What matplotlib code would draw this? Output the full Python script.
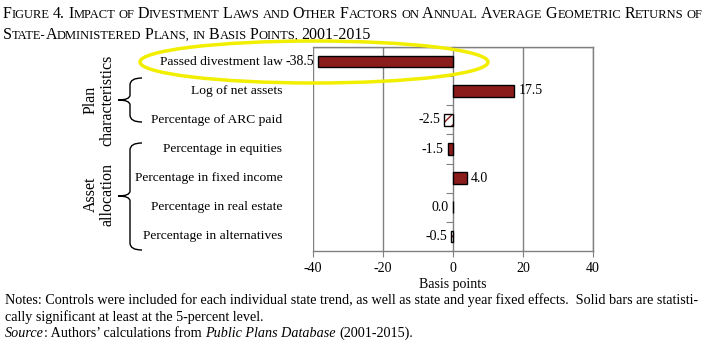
import matplotlib

matplotlib.use('Agg')

import matplotlib.pyplot as plt
from matplotlib.patches import Ellipse, PathPatch
from matplotlib.path import Path
import matplotlib.transforms as mtransforms

# data
categories = ['Passed divestment law', 'Log of net assets', 'Percentage of ARC paid',
              'Percentage in equities', 'Percentage in fixed income',
              'Percentage in real estate', 'Percentage in alternatives']
values = [-38.5, 17.5, -2.5, -1.5, 4.0, 0.0, -0.5]
significant = [True, True, False, True, True, True, False]
xticks = [-40, -20, 0, 20, 40]

W, H = 710, 343
SERIF = 'Liberation Serif'
BAR_RED = '#8b1c1c'

plt.rcParams['font.family'] = SERIF

fig = plt.figure(figsize=(W / 100, H / 100), dpi=100)
renderer = fig.canvas.get_renderer()


def fx(px):
    return px / W


def fy(py):
    return 1 - py / H


def put(x, y, text, size, style='normal'):
    """one text piece at pixel x/y (baseline), returns its right end"""
    t = fig.text(fx(x), fy(y), text, fontsize=size, style=style, va='baseline', ha='left')
    return x + t.get_window_extent(renderer).width


def draw_runs(x, y, runs, space=0.25):
    """draw word tokens one after another, (text, size, style) runs, x/y in pixels"""
    for text, size, style in runs:
        words = text.split(' ')
        for i, word in enumerate(words):
            if i > 0:
                x += space * size * 100 / 72
            if word == '':
                continue
            x = put(x, y, word, size, style)
    return x


def small_caps(x, y, text, big, small):
    runs = []
    for word in text.split(' '):
        if runs:
            runs.append((' ', big, 'normal'))
        cur = ''
        cur_low = None
        for ch in word:
            # punctuation keeps the size of the run it sits in
            low = ch.islower() if (ch.isalpha() or cur_low is None) else cur_low
            if cur_low is not None and low != cur_low:
                runs.append((cur, small if cur_low else big, 'normal'))
                cur = ''
            cur += ch.upper()
            cur_low = low
        runs.append((cur, small if cur_low else big, 'normal'))
    return draw_runs(x, y, runs, space=0.2)


# title in small caps
small_caps(3, 18, 'Figure 4. Impact of Divestment Laws and Other Factors on Annual Average Geometric Returns of',
           11.5, 9.0)
small_caps(3, 39, 'State-Administered Plans, in Basis Points, 2001-2015', 11.5, 9.0)

# main axes
ax = fig.add_axes([fx(313), fy(251), fx(593) - fx(313), fy(47) - fy(251)])
pos = list(range(len(categories)))

for p, v, sig in zip(pos, values, significant):
    if sig:
        ax.barh(p, v, height=0.4, color=BAR_RED, edgecolor='black', lw=1, zorder=3)
    else:
        ax.barh(p, v, height=0.4, color='white', edgecolor=BAR_RED, hatch='///', lw=0, zorder=3)
        ax.barh(p, v, height=0.4, color='none', edgecolor='black', lw=1, zorder=4)

# value labels
for p, v in zip(pos, values):
    if v > 0:
        ax.annotate('%.1f' % v, xy=(v, p), xytext=(3, 0), textcoords='offset points',
                    ha='left', va='center', fontsize=10)
    else:
        ax.annotate('%.1f' % v, xy=(v, p), xytext=(-3, 0), textcoords='offset points',
                    ha='right', va='center', fontsize=10)

# category labels
trans = mtransforms.blended_transform_factory(ax.transAxes, ax.transData)
for p, c in zip(pos, categories):
    ax.annotate(c, xy=(0, p), xycoords=trans, xytext=(-22, 0), textcoords='offset points',
                ha='right', va='center', fontsize=9.7)

ax.set_xlim(-40, 40)
ax.set_ylim(len(categories) - 0.5, -0.5)
ax.set_xticks(xticks)
ax.set_xticklabels([str(t) for t in xticks], fontsize=10)
ax.set_xlabel('Basis points', fontsize=10, labelpad=2)
ax.tick_params(axis='x', direction='out', length=4, color='#808080', pad=4)

# category axis at zero with ticks between categories
ax.spines['left'].set_position(('data', 0))
ax.set_yticks([p + 0.5 for p in pos[:-1]])
ax.set_yticklabels([])
ax.tick_params(axis='y', direction='out', length=5, color='#808080')
for s in ax.spines.values():
    s.set_color('#808080')
    s.set_linewidth(1)
for t in [-40, -20, 20, 40]:
    ax.axvline(t, color='#808080', lw=1, zorder=1)
ax.axhline(-0.5, color='#808080', lw=1, zorder=1)


# group brackets
def brace(y0, y1, ym, x=130, xr=142, xl=118):
    verts = [(xr, y0), (x, y0), (x, y0 + 7), (x, ym - 5), (x, ym), (xl, ym),
             (x, ym), (x, ym + 5), (x, y1 - 7), (x, y1), (xr, y1)]
    codes = [Path.MOVETO, Path.CURVE3, Path.CURVE3, Path.LINETO, Path.CURVE3, Path.CURVE3,
             Path.CURVE3, Path.CURVE3, Path.LINETO, Path.CURVE3, Path.CURVE3]
    verts = [(fx(a), fy(b)) for a, b in verts]
    fig.add_artist(PathPatch(Path(verts, codes), transform=fig.transFigure, fill=False,
                             lw=1, edgecolor='black'))


brace(78, 122, 100)
brace(143, 250, 196)
fig.text(fx(99), fy(100), 'Plan\ncharacteristics', rotation=90, ha='center', va='center',
         multialignment='center', fontsize=11.5, linespacing=1.0)
fig.text(fx(99), fy(194), 'Asset\nallocation', rotation=90, ha='center', va='center',
         multialignment='center', fontsize=11.5, linespacing=1.0)

# highlight ellipse
fig.add_artist(Ellipse((fx(314), fy(62)), fx(348), 42 / H, transform=fig.transFigure,
                       fill=False, edgecolor='#f2ee00', lw=2.5, zorder=10))

# notes
NOTE = 10.2
SP = 0.25 * NOTE * 100 / 72
fig.text(fx(5), fy(304), 'Notes: Controls were included for each individual state trend, as well as state and year '
         'fixed effects.  Solid bars are statisti-', fontsize=NOTE, va='baseline')
fig.text(fx(5), fy(321), 'cally significant at least at the 5-percent level.', fontsize=NOTE, va='baseline')
x = put(5, 337, 'Source', NOTE, 'italic')
x = put(x, 337, ': Authors\u2019 calculations from', NOTE)
x = put(x + SP, 337, 'Public Plans Database', NOTE, 'italic')
put(x + SP, 337, '(2001-2015).', NOTE)

fig.savefig('out.png', dpi=100)
